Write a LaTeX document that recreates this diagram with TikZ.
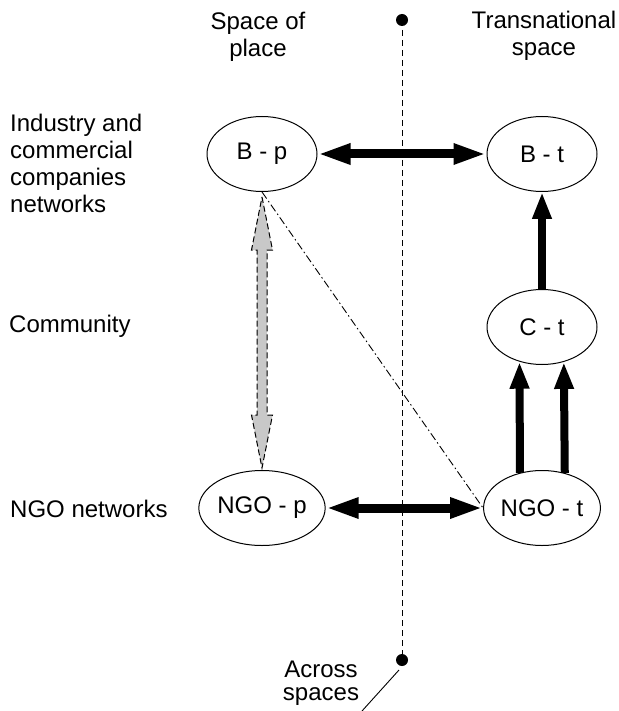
\documentclass[tikz,border=0pt]{standalone}
\usepackage{fontspec}
\setmainfont{Liberation Sans}
\usetikzlibrary{arrows.meta,shapes.geometric,calc}
\definecolor{lightgrey}{RGB}{200,200,200}

\tikzset{
  txt/.style={font=\fontsize{24}{27}\selectfont, inner sep=0pt},
  actor/.style={draw, line width=1pt, ellipse, minimum width=110pt,
    minimum height=75pt, inner sep=0pt, font=\fontsize{24}{27}\selectfont},
  linkboth/.style={line width=9pt,
    {Triangle[length=33pt,width=19pt]}-{Triangle[length=33pt,width=19pt]}},
  linkup/.style={line width=8pt, -{Triangle[length=27pt,width=18pt]}},
  divider/.style={line width=1pt, dash pattern=on 6pt off 4pt},
  crosslink/.style={line width=0.9pt, dash pattern=on 8pt off 3pt on 1.5pt off 3pt},
  tiebar/.style={line width=1pt, dash pattern=on 6pt off 3pt, fill=lightgrey},
  enddot/.style={circle, fill=black, minimum size=12pt, inner sep=0pt}
}

\begin{document}
\begin{tikzpicture}[x=1pt,y=-1pt]
  \useasboundingbox (0,0) rectangle (618,711);

  % column headings
  \node[txt, anchor=north, align=center] (hplace) at (258,11.5) {Space of\\place};
  \node[txt, anchor=north, align=center] (htrans) at (544,10.5) {Transnational\\space};

  % row headings
  \node[txt, anchor=north west, align=left] (hind) at (10,113.7)
    {Industry and\\commercial\\companies\\networks};
  \node[txt, anchor=base west] (hcom) at (9,332) {Community};
  \node[txt, anchor=base west] (hngo) at (10,517) {NGO networks};

  % dividing line between the two spaces
  \node[enddot] (dtop) at (402,20) {};
  \node[enddot] (dbot) at (402,660) {};
  \draw[divider] (dtop.center) -- (dbot.center);

  % actors
  \node[actor] (Bp)   at (262,154) {B - p};
  \node[actor] (Bt)   at (542,154) {B - t};
  \node[actor] (Ct)   at (542,327) {C - t};
  \node[actor] (NGOp) at (262,508) {NGO - p};
  \node[actor] (NGOt) at (542,508) {NGO - t};

  % links between the actors
  \draw[linkboth] (Bp.east) -- (Bt.west);
  \draw[linkboth] (NGOp.east) -- (NGOt.west);
  \draw[linkup] (Ct.north) -- (Bt.south);
  \draw[linkup] (NGOt.122.6) -- (Ct.237.4);
  \draw[linkup] (NGOt.57.4) -- (Ct.302.6);
  \draw[crosslink] (Bp.south) -- (NGOt.west);

  % grey dashed double arrow inside the space of place
  \coordinate (gt) at ($(Bp.south)+(0,5)$);
  \coordinate (gb) at ($(NGOp.north)+(0,-2)$);
  \draw[tiebar] (gt) -- ($(gt)+(10.5,53)$) -- ($(gt)+(5,53)$)
    -- ($(gb)+(5,-53)$) -- ($(gb)+(10.5,-53)$) -- (gb)
    -- ($(gb)+(-10.5,-53)$) -- ($(gb)+(-5,-53)$)
    -- ($(gt)+(-5,53)$) -- ($(gt)+(-10.5,53)$) -- cycle;

  % label of the dividing line
  \node[txt, font=\fontsize{24}{23}\selectfont, anchor=north, align=center]
    (hacross) at (321,660.5) {Across\\spaces};
  \coordinate (lead) at (362,711);
  \draw[line width=0.9pt] ($(dbot.center)+(-3,10)$) -- (lead);
\end{tikzpicture}
\end{document}
